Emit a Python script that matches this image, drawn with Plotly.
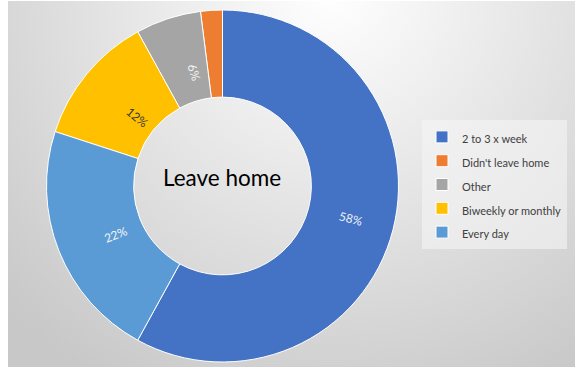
import base64
import math
import plotly.graph_objects as go

# ---- data ----
categories = ["2 to 3 x week", "Didn't leave home", "Other", "Biweekly or monthly", "Every day"]
shares = [58, 2, 6, 12, 22]
slice_labels = ["58%", "", "6%", "12%", "22%"]
colors = ["#4472C4", "#ED7D31", "#A5A5A5", "#FFC000", "#5B9BD5"]
label_colors = ["#eef2fa", "#ffffff", "#f4f4f4", "#3a3a3a", "#f4f4f4"]
center_title = "Leave home"

W, H = 577, 370
ML, MR, MT, MB = 0, 0, 10, 8
PH = H - MT - MB
HOLE = 0.505

def px_x(px):
    return (px - ML) / (W - ML - MR)

def px_y(py):
    return (H - MB - py) / PH

# pie geometry in pixels
dom_x = [px_x(46), px_x(399)]
dom_y = [0, 1]
cx_px = ML + (dom_x[0] + dom_x[1]) / 2 * (W - ML - MR)
cy_px = MT + (1 - (dom_y[0] + dom_y[1]) / 2) * PH
R = min((dom_x[1] - dom_x[0]) * (W - ML - MR), (dom_y[1] - dom_y[0]) * PH) / 2
r_mid = R * (1 + HOLE) / 2

# radial gradient background as svg
gw, gh = 567, 366
svg = f'''<svg xmlns="http://www.w3.org/2000/svg" width="{gw}" height="{gh}" viewBox="0 0 {gw} {gh}">
<defs><radialGradient id="g" gradientUnits="userSpaceOnUse" cx="322" cy="-10" r="450">
<stop offset="0" stop-color="#ffffff"/><stop offset="1" stop-color="#c8c8c8"/></radialGradient></defs>
<rect width="{gw}" height="{gh}" fill="url(#g)"/></svg>'''
bg_src = "data:image/svg+xml;base64," + base64.b64encode(svg.encode()).decode()

legend_names = [f'<span style="font-size:11px">{c}</span>' for c in categories]

fig = go.Figure(go.Pie(
    labels=legend_names,
    values=shares,
    textinfo="none",
    hole=HOLE,
    sort=False,
    direction="counterclockwise",
    rotation=0,
    marker=dict(colors=colors, line=dict(color="#ffffff", width=1)),
    domain=dict(x=dom_x, y=dom_y),
    hoverinfo="label+percent",
))

# slice labels placed radially at the middle of the ring (angles from the data)
total = sum(shares)
# first slice spans clockwise from 12 o'clock; the rest continue counterclockwise from 12 o'clock
first_deg = shares[0] / total * 360
mids = [first_deg / 2]
cur = 360.0
for v in shares[1:]:
    span = v / total * 360
    mids.append(cur - span / 2)
    cur -= span
for lab, mid, col in zip(slice_labels, mids, label_colors):
    if not lab:
        continue
    t = math.radians(mid)
    x = cx_px + r_mid * math.sin(t)
    y = cy_px - r_mid * math.cos(t)
    ang = mid - 90
    while ang > 90:
        ang -= 180
    while ang < -90:
        ang += 180
    fig.add_annotation(
        text=lab, x=px_x(x), y=px_y(y), xref="paper", yref="paper",
        showarrow=False, textangle=ang,
        font=dict(family="Lato, Open Sans, sans-serif", size=12, color=col),
    )

fig.add_layout_image(dict(
    source=bg_src, xref="paper", yref="paper",
    x=px_x(8), y=px_y(1), sizex=px_x(575) - px_x(8), sizey=px_y(1) - px_y(367),
    xanchor="left", yanchor="top", sizing="stretch", layer="below",
))

fig.add_annotation(
    text=center_title, x=px_x(222), y=px_y(177), xref="paper", yref="paper",
    showarrow=False, font=dict(family="Lato, Open Sans, sans-serif", size=22.5, color="#000000"),
)

fig.update_layout(
    width=W, height=H,
    margin=dict(l=ML, r=MR, t=MT, b=MB),
    paper_bgcolor="#ffffff",
    plot_bgcolor="rgba(0,0,0,0)",
    showlegend=True,
    legend=dict(
        x=px_x(422), y=px_y(120), xanchor="left", yanchor="top",
        bgcolor="rgba(245,245,245,0.6)",
        font=dict(family="Lato, Open Sans, sans-serif", size=16, color="#404040"),
        traceorder="normal",
    ),
)

fig.write_html("out.html")
